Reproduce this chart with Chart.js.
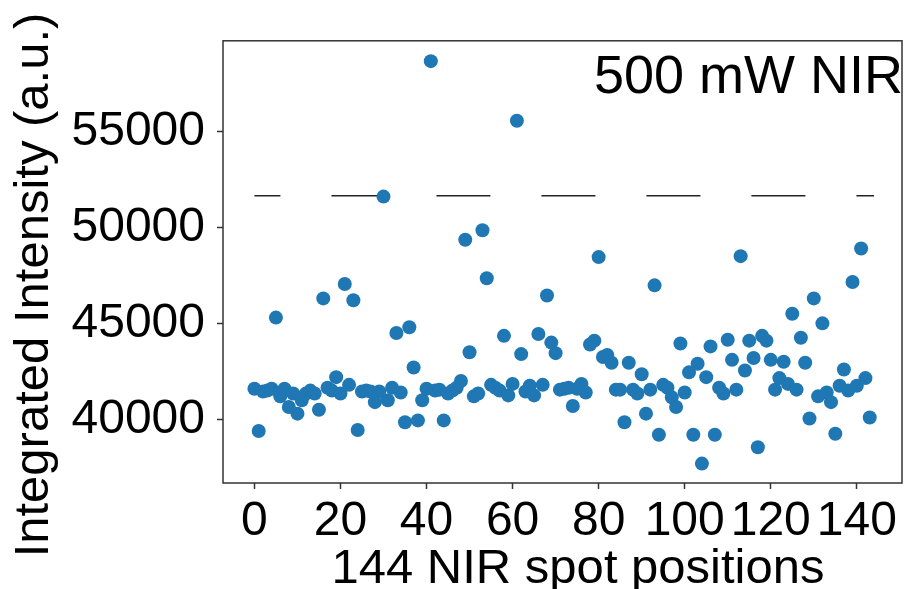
<!DOCTYPE html>
<html>
<head>
<meta charset="utf-8">
<script src="https://cdn.jsdelivr.net/npm/chart.js@4"></script>
<style>
  html, body { margin: 0; padding: 0; background: #fff; }
  #wrap { width: 909px; height: 589px; }
</style>
</head>
<body>
<div id="wrap"><canvas id="nirChart" width="909" height="589"></canvas></div>
<script>
// Integrated intensity of each of the 144 NIR spot positions (index = spot)
var intensity = [
  41600, 39400, 41450, 41500, 41600, 45300, 41200, 41600, 40650, 41350,
  40300, 41000, 41350, 41500, 41350, 40500, 46300, 41650, 41500, 42200,
  41350, 47050, 41800, 46200, 39450, 41450, 41500, 41450, 40900, 41450,
  51600, 41000, 41650, 44500, 41400, 39850, 44800, 42700, 39950, 41000,
  41600, 58650, 41500, 41550, 39950, 41350, 41500, 41650, 42000, 49350,
  43500, 41200, 41350, 49850, 47350, 41800, 41650, 41500, 44350, 41250,
  41850, 55550, 43400, 41450, 41750, 41250, 44450, 41800, 46450, 44000,
  43450, 41550, 41600, 41650, 40700, 41600, 41850, 41400, 43900, 44100,
  48450, 43250, 43350, 42950, 41550, 41550, 39850, 42950, 41550, 41350,
  42350, 40300, 41550, 46980, 39200, 41800, 41650, 41150, 40650, 43950,
  41400, 42450, 39200, 42900, 37700, 42200, 43800, 39200, 41650, 41350,
  44150, 43100, 41550, 48500, 42550, 44100, 43200, 38550, 44350, 44100,
  43100, 41550, 42150, 43000, 41850, 45500, 41550, 44250, 42950, 40050,
  46300, 41200, 45000, 41400, 40900, 39250, 41750, 42600, 41500, 47150,
  41750, 48900, 42150, 40100
];

// dashed threshold line
var thresholdValue = 51650;
var thresholdSpan = [0, 144];

// tick labels
var xTicks = [0, 20, 40, 60, 80, 100, 120, 140];
var yTicks = [40000, 45000, 50000, 55000];

var FONT = "'Liberation Sans', Arial, sans-serif";

// pontos do scatter
var pontos = intensity.map(function (v, i) { return { x: i, y: v }; });
var linha = thresholdSpan.map(function (x) { return { x: x, y: thresholdValue }; });

// moldura completa + textos (titulos e anotacao)
var extrasPlugin = {
  id: 'extras',
  afterDraw: function (chart) {
    var ctx = chart.ctx;
    var a = chart.chartArea;
    ctx.save();
    ctx.strokeStyle = '#333';
    ctx.lineWidth = 1.5;
    ctx.strokeRect(a.left, a.top, a.right - a.left, a.bottom - a.top);

    ctx.fillStyle = '#000';
    ctx.textBaseline = 'alphabetic';

    ctx.font = '54px ' + FONT;
    ctx.textAlign = 'right';
    ctx.fillText('500 mW NIR', 903, 93);

    ctx.font = '49px ' + FONT;
    ctx.textAlign = 'center';
    ctx.fillText('144 NIR spot positions', 578, 583);

    ctx.translate(48, 285);
    ctx.rotate(-Math.PI / 2);
    ctx.fillText('Integrated Intensity (a.u.)', 0, 0);
    ctx.restore();
  }
};

var ctx = document.getElementById('nirChart').getContext('2d');
var nirChart = new Chart(ctx, {
  type: 'scatter',
  data: {
    datasets: [{
      label: 'intensity',
      data: pontos,
      backgroundColor: '#1f77b4',
      borderColor: '#1f77b4',
      borderWidth: 0,
      pointRadius: 7,
      order: 1
    }, {
      label: 'threshold',
      type: 'line',
      data: linha,
      borderColor: '#222',
      borderWidth: 1.5,
      borderDash: [54, 51],
      borderDashOffset: 28,
      pointRadius: 0,
      fill: false,
      order: 2
    }]
  },
  options: {
    responsive: false,
    animation: false,
    layout: { padding: { top: 38, right: 2, left: 0, bottom: 0 } },
    plugins: {
      legend: { display: false },
      tooltip: { enabled: false }
    },
    scales: {
      x: {
        type: 'linear',
        min: -7.3,
        max: 150.5,
        afterBuildTicks: function (scale) {
          scale.ticks = xTicks.map(function (v) { return { value: v }; });
        },
        afterFit: function (scale) { scale.height = 106; },
        grid: {
          drawOnChartArea: false,
          drawTicks: true,
          tickLength: 6,
          tickColor: '#333',
          tickWidth: 1.5
        },
        border: { display: false },
        ticks: {
          color: '#000',
          padding: 4,
          maxRotation: 0,
          autoSkip: false,
          font: { family: FONT, size: 48 },
          callback: function (v) { return String(v); }
        }
      },
      y: {
        min: 36690,
        max: 59710,
        afterBuildTicks: function (scale) {
          scale.ticks = yTicks.map(function (v) { return { value: v }; });
        },
        afterFit: function (scale) { scale.width = 223; },
        grid: {
          drawOnChartArea: false,
          drawTicks: true,
          tickLength: 6,
          tickColor: '#333',
          tickWidth: 1.5
        },
        border: { display: false },
        ticks: {
          color: '#000',
          padding: 12,
          autoSkip: false,
          font: { family: FONT, size: 48 },
          callback: function (v) { return String(v); }
        }
      }
    }
  },
  plugins: [extrasPlugin]
});
</script>
</body>
</html>
